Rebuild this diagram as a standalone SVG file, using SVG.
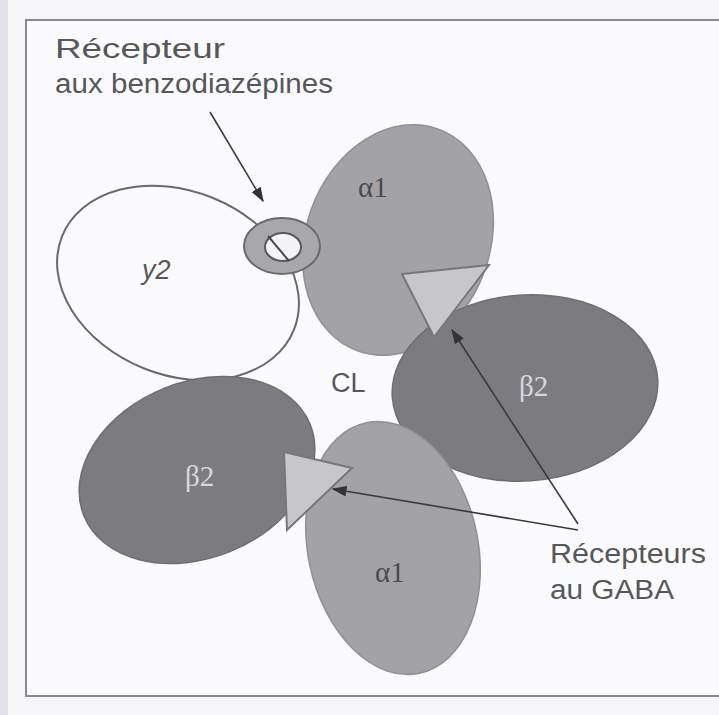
<svg xmlns="http://www.w3.org/2000/svg" width="719" height="715" viewBox="0 0 719 715">
  <defs>
    <marker id="head" viewBox="0 0 10 10" refX="9" refY="5" markerWidth="15" markerHeight="15" markerUnits="userSpaceOnUse" orient="auto">
      <path d="M0,1.5 L10,5 L0,8.5 z" fill="#333337"/>
    </marker>
    <style>
      .label { font-family: "Liberation Sans", Arial, sans-serif; font-size: 27px; fill: #57575b; }
      .sub { font-family: "Liberation Serif", "Times New Roman", serif; font-size: 29px; }
      .alpha { fill: #a3a3a7; stroke: #909094; stroke-width: 1.5; }
      .beta { fill: #7c7c80; stroke: #6e6e72; stroke-width: 1.5; }
      .gamma { fill: #fbfbfd; stroke: #6a6a6e; stroke-width: 2; }
      .site { fill: #c7c7cb; stroke: #77777b; stroke-width: 2; }
      .conn { stroke: #3a3a3e; stroke-width: 1.6; fill: none; marker-end: url(#head); }
    </style>
  </defs>

  <!-- page and frame -->
  <rect x="0" y="0" width="719" height="715" fill="#f6f6f8"/>
  <rect x="0" y="0" width="8" height="715" fill="#e2e2e8"/>
  <rect x="26" y="20" width="710" height="676" fill="#fbfbfd" stroke="#8a8a8e" stroke-width="2"/>

  <!-- subunits -->
  <g id="gamma2">
    <ellipse class="gamma" cx="178" cy="283" rx="125" ry="92" transform="rotate(22 178 283)"/>
    <text class="label" x="142" y="279" fill="#4a4a4e" font-style="italic" font-size="28">y2</text>
  </g>
  <g id="alpha1-top">
    <ellipse class="alpha" cx="398" cy="240" rx="92" ry="118" transform="rotate(20 398 240)"/>
    <text class="sub" x="358" y="197" fill="#4a4a4e">α1</text>
  </g>
  <g id="beta2-right">
    <ellipse class="beta" cx="525" cy="388" rx="133" ry="93" transform="rotate(-4 525 388)"/>
    <text class="sub" x="519" y="396" fill="#d8d8dc">β2</text>
  </g>
  <g id="beta2-left">
    <ellipse class="beta" cx="197" cy="470" rx="122" ry="88" transform="rotate(-22 197 470)"/>
    <text class="sub" x="185" y="486" fill="#d8d8dc">β2</text>
  </g>
  <g id="alpha1-bottom">
    <ellipse class="alpha" cx="393" cy="548" rx="85" ry="128" transform="rotate(-12 393 548)"/>
    <text class="sub" x="375" y="582" fill="#4a4a4e">α1</text>
  </g>

  <!-- benzodiazepine binding site -->
  <g id="bzd-site">
    <ellipse cx="282" cy="246" rx="38" ry="28" fill="#a8a8ac" stroke="#6a6a6e" stroke-width="2"/>
    <ellipse cx="283" cy="247" rx="18" ry="14" fill="#f4f4f6" stroke="#5a5a5e" stroke-width="2"/>
    <line x1="268" y1="236" x2="289" y2="261" stroke="#4a4a4e" stroke-width="2"/>
  </g>

  <!-- GABA binding sites -->
  <g id="gaba-site-top">
    <polygon class="site" points="402,274 489,265 434,337"/>
  </g>
  <g id="gaba-site-bottom">
    <polygon class="site" points="284,452 352,468 287,530"/>
  </g>

  <text class="label" x="331" y="392" fill="#4a4a4e" font-size="28">CL</text>

  <!-- connectors -->
  <g id="connectors">
    <line class="conn" x1="210" y1="112" x2="263" y2="201"/>
    <line class="conn" x1="578" y1="524" x2="452" y2="330"/>
    <line class="conn" x1="578" y1="530" x2="333" y2="489"/>
  </g>

  <!-- labels (glyphs stretched to the set width) -->
  <g id="label-bzd">
    <text class="label" x="55" y="58" textLength="170" lengthAdjust="spacingAndGlyphs">Récepteur</text>
    <text class="label" x="55" y="93" textLength="278" lengthAdjust="spacingAndGlyphs">aux benzodiazépines</text>
  </g>
  <g id="label-gaba">
    <text class="label" x="550" y="563" textLength="156" lengthAdjust="spacingAndGlyphs">Récepteurs</text>
    <text class="label" x="550" y="599" textLength="124" lengthAdjust="spacingAndGlyphs">au GABA</text>
  </g>
</svg>
